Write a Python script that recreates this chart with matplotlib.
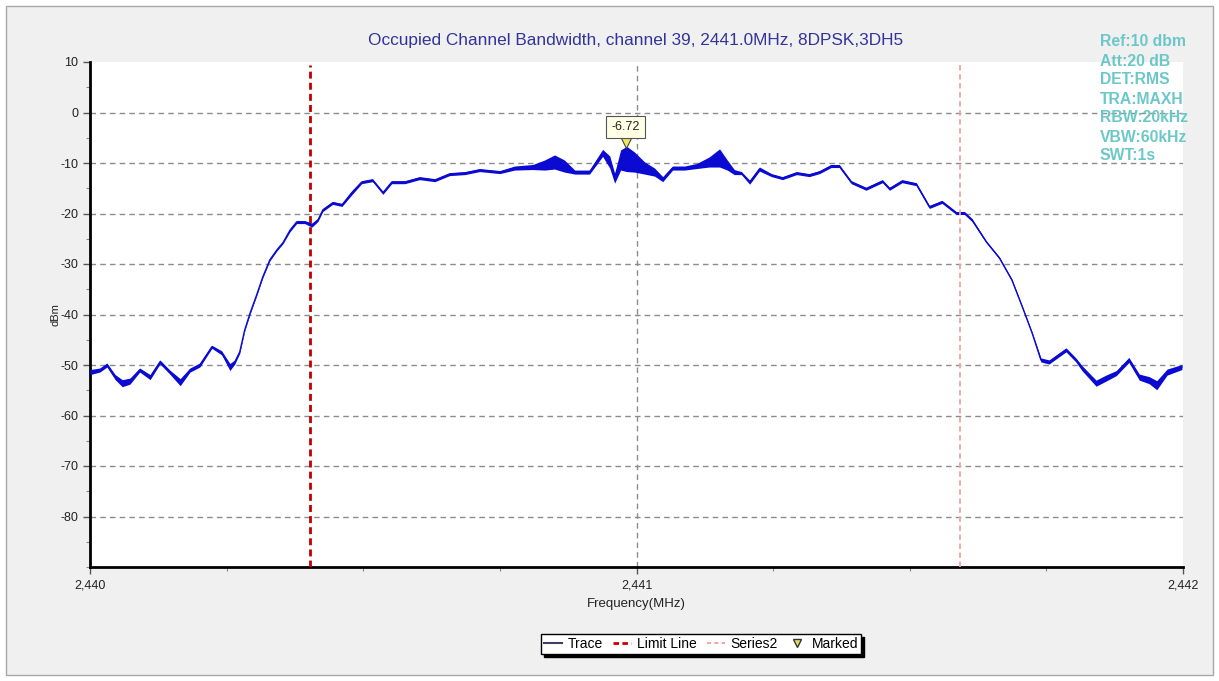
import matplotlib
matplotlib.use("Agg")
import matplotlib.pyplot as plt
from matplotlib.lines import Line2D
from matplotlib.patches import Rectangle
from matplotlib.ticker import FuncFormatter, MultipleLocator

plt.rcParams['font.family'] = ['Liberation Sans', 'DejaVu Sans']
plt.rcParams['axes.unicode_minus'] = False

# ---------------- data ----------------
freq_mhz = [2440.000, 2440.018, 2440.031, 2440.046, 2440.059, 2440.073, 2440.091, 2440.110,
            2440.128, 2440.146, 2440.165, 2440.183, 2440.201, 2440.223, 2440.241, 2440.256,
            2440.265, 2440.274, 2440.283, 2440.293, 2440.305, 2440.316, 2440.329, 2440.342,
            2440.353, 2440.366, 2440.378, 2440.393, 2440.406, 2440.417, 2440.426, 2440.444,
            2440.461, 2440.479, 2440.497, 2440.517, 2440.536, 2440.552, 2440.576, 2440.603,
            2440.631, 2440.658, 2440.686, 2440.713, 2440.750, 2440.777, 2440.810, 2440.832,
            2440.850, 2440.868, 2440.887, 2440.914, 2440.938, 2440.951, 2440.960, 2440.971,
            2440.982, 2440.996, 2441.015, 2441.033, 2441.048, 2441.066, 2441.088, 2441.110,
            2441.133, 2441.152, 2441.166, 2441.179, 2441.192, 2441.207, 2441.225, 2441.247,
            2441.267, 2441.293, 2441.316, 2441.335, 2441.356, 2441.371, 2441.393, 2441.420,
            2441.450, 2441.463, 2441.486, 2441.512, 2441.536, 2441.559, 2441.585, 2441.600,
            2441.614, 2441.640, 2441.664, 2441.687, 2441.706, 2441.724, 2441.740, 2441.755,
            2441.773, 2441.786, 2441.804, 2441.815, 2441.841, 2441.859, 2441.878, 2441.901,
            2441.920, 2441.938, 2441.952, 2441.971, 2441.998]
trace_dbm = [-51.4, -51.0, -50.0, -52.4, -53.6, -53.2, -51.0, -52.4,
             -49.4, -51.4, -53.4, -51.0, -50.0, -46.4, -47.6, -50.4,
             -49.4, -47.4, -43.1, -39.7, -36.1, -32.6, -29.2, -27.2,
             -25.8, -23.3, -21.7, -21.7, -22.3, -21.3, -19.3, -17.9,
             -18.3, -15.9, -13.8, -13.4, -15.9, -13.8, -13.8, -13.0,
             -13.4, -12.2, -12.0, -11.4, -11.8, -11.0, -10.8, -10.4,
             -9.8, -10.6, -11.8, -11.8, -8.0, -9.8, -13.0, -9.4,
             -9.2, -9.8, -11.0, -11.8, -13.2, -11.0, -11.0, -10.6,
             -9.8, -9.0, -10.4, -11.8, -12.0, -13.8, -11.2, -12.4,
             -13.0, -12.0, -12.4, -11.8, -10.6, -10.6, -13.8, -15.1,
             -13.6, -15.1, -13.6, -14.2, -18.7, -17.7, -19.9, -19.9,
             -21.3, -25.6, -28.8, -33.2, -38.5, -43.7, -49.0, -49.4,
             -48.0, -47.0, -49.0, -50.6, -53.6, -52.6, -51.6, -49.0,
             -52.4, -53.0, -54.0, -51.4, -50.4]
trace_spread = [0.5, 0.4, 0.4, 0.5, 0.7, 0.6, 0.4, 0.5,
                0.4, 0.4, 0.7, 0.4, 0.4, 0.3, 0.4, 0.7,
                0.4, 0.3, 0.2, 0.2, 0.2, 0.2, 0.2, 0.2,
                0.2, 0.3, 0.3, 0.3, 0.4, 0.3, 0.3, 0.3,
                0.3, 0.4, 0.3, 0.3, 0.3, 0.3, 0.3, 0.3,
                0.3, 0.3, 0.3, 0.3, 0.3, 0.4, 0.5, 1.0,
                1.4, 1.2, 0.4, 0.4, 0.7, 1.2, 1.0, 2.0,
                2.5, 2.0, 1.2, 0.8, 0.5, 0.4, 0.4, 0.5,
                1.0, 1.8, 1.0, 0.5, 0.3, 0.4, 0.4, 0.3,
                0.3, 0.3, 0.3, 0.3, 0.3, 0.3, 0.3, 0.3,
                0.3, 0.3, 0.3, 0.3, 0.3, 0.3, 0.3, 0.3,
                0.3, 0.2, 0.2, 0.2, 0.2, 0.2, 0.4, 0.4,
                0.4, 0.4, 0.4, 0.5, 0.6, 0.6, 0.5, 0.5,
                0.6, 0.7, 0.9, 0.6, 0.5]

limit_line_mhz = 2440.402
series2_mhz = 2441.592
marker_mhz = 2440.980
marker_dbm = -6.72

title_text = "Occupied Channel Bandwidth, channel 39, 2441.0MHz, 8DPSK,3DH5"
info_lines = ["Ref:10 dbm", "Att:20 dB", "DET:RMS", "TRA:MAXH",
              "RBW:20kHz", "VBW:60kHz", "SWT:1s"]
y_ticks = [10, 0, -10, -20, -30, -40, -50, -60, -70, -80]
x_ticks = [2440, 2441, 2442]
legend_labels = ["Trace", "Limit Line", "Series2", "Marked"]

# ---------------- figure ----------------
W, H = 1219, 681
fig = plt.figure(figsize=(W / 100, H / 100), dpi=100)
fig.patch.set_facecolor('white')
bg = Rectangle((6 / W, 6 / H), (1213 - 6) / W, (675 - 6) / H,
               transform=fig.transFigure, facecolor='#F0F0F0',
               edgecolor='#A8A8A8', linewidth=1, zorder=-10)
fig.patches.append(bg)

left, right, top, bottom = 90, 1183, 62, 567
ax = fig.add_axes([left / W, 1 - bottom / H, (right - left) / W, (bottom - top) / H])
ax.set_facecolor('white')
ax.set_xlim(2440, 2442)
ax.set_ylim(-90, 10)

for s in ['top', 'right']:
    ax.spines[s].set_visible(False)
for s in ['left', 'bottom']:
    ax.spines[s].set_linewidth(2)
    ax.spines[s].set_color('black')

ax.set_yticks(y_ticks)
ax.set_xticks(x_ticks)
ax.xaxis.set_minor_locator(MultipleLocator(0.25))
ax.yaxis.set_minor_locator(MultipleLocator(5))
ax.xaxis.set_major_formatter(FuncFormatter(lambda v, p: f"{v:,.0f}"))
ax.tick_params(axis='both', which='major', direction='out', length=5, width=1,
               color='#555555', labelsize=9, labelcolor='#222222')
ax.tick_params(axis='both', which='minor', direction='out', length=3, width=0.8,
               color='#888888')
ax.tick_params(axis='x', pad=4)

# grid
for yv in y_ticks[1:]:
    ax.axhline(yv, color='#8C8C8C', lw=1, ls=(0, (4, 3)), zorder=1)
ax.axvline(2441, color='#8C8C8C', lw=1, ls=(0, (4, 3)), zorder=1)

# trace
lo = [t - s for t, s in zip(trace_dbm, trace_spread)]
hi = [t + s for t, s in zip(trace_dbm, trace_spread)]
ax.fill_between(freq_mhz, lo, hi, color='#0A0AD2', lw=0, zorder=3)
ax.plot(freq_mhz, trace_dbm, color='#0A0AD2', lw=1.0, zorder=3)

# limit lines
ax.axvline(limit_line_mhz, ymax=0.995, color='#C00000', lw=2, ls=(0, (2.5, 1.5)), zorder=4)
ax.axvline(series2_mhz, ymax=0.995, color='#EBA5A5', lw=1.3, ls=(0, (3, 2)), zorder=4)

# marker
ax.plot([marker_mhz], [marker_dbm + 0.6], marker='v', ms=7, color='#F0E860',
        mec='#444444', mew=0.8, ls='none', zorder=5)
ax.annotate(f"{marker_dbm:.2f}", xy=(marker_mhz, marker_dbm), xytext=(0, 14),
            textcoords='offset points', ha='center', va='center', fontsize=9,
            color='#222222',
            bbox=dict(boxstyle='square,pad=0.4', fc='#FFFFE6', ec='#555555', lw=0.8),
            zorder=6)

# labels
fig.text(636 / W, 1 - 40 / H, title_text, ha='center', va='center',
         fontsize=12.4, color='#333399')
ax.set_xlabel("Frequency(MHz)", fontsize=9.5, color='#222222', labelpad=5)
ax.set_ylabel("dBm", fontsize=8, color='#222222', labelpad=0)

for i, line in enumerate(info_lines):
    fig.text(1100 / W, 1 - (42 + 19 * i) / H, line, ha='left', va='center',
             fontsize=11.3, fontweight='bold', color='#6CC8C8', zorder=10)

# legend
handles = [Line2D([], [], color='#404060', lw=1.5),
           Line2D([], [], color='#CC0000', lw=2, ls=(0, (2, 1.2))),
           Line2D([], [], color='#F0A8A8', lw=1.5, ls=(0, (2, 1.5))),
           Line2D([], [], marker='v', color='#E8E060', mec='#333333', ls='none', ms=6)]
leg = fig.legend(handles, legend_labels, loc='center', ncol=4,
                 bbox_to_anchor=(701 / W, 1 - 644 / H), fontsize=10,
                 frameon=True, fancybox=False, shadow={'color': 'black', 'alpha': 1},
                 handlelength=1.3, handletextpad=0.4, columnspacing=0.75,
                 borderpad=0.2)
leg.get_frame().set_edgecolor('black')
leg.get_frame().set_linewidth(1)

fig.savefig('out.png', dpi=100, facecolor=fig.get_facecolor())
